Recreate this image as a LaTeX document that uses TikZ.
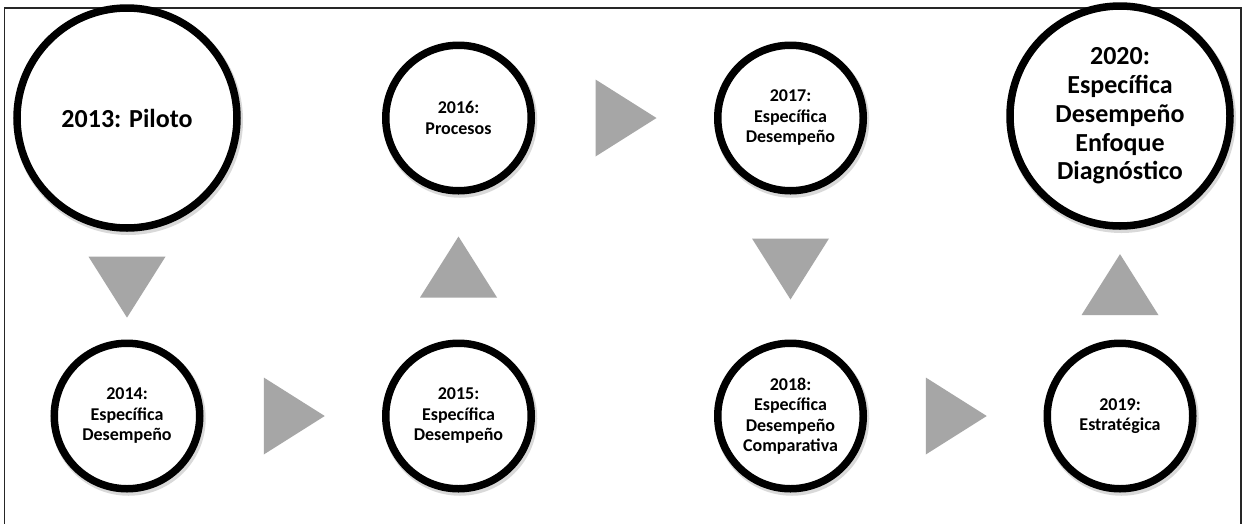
\documentclass[tikz,border=0pt]{standalone}
\usepackage{fontspec}
\setmainfont{Carlito}
\usetikzlibrary{calc,shadows}
\definecolor{trigray}{HTML}{A6A6A6}
\tikzset{
  circbase/.style={circle, draw=black, line width=7.5pt, fill=white, inner sep=0pt,
    align=center, text=black,
    drop shadow={shadow xshift=1.5pt, shadow yshift=-2.5pt, opacity=0.15,
      draw=black, fill=black, line width=9pt}},
  bigcirc/.style={circbase, minimum size=220pt, font=\fontsize{26}{28.8}\selectfont\bfseries},
  smallcirc/.style={circbase, minimum size=145.5pt, font=\fontsize{18}{20.5}\selectfont\bfseries},
  trifill/.style={fill=trigray},
  tri/.pic={\fill[trifill] (-30.5,-38.5) -- (30.5,0) -- (-30.5,38.5) -- cycle;},
  frameline/.style={draw=black!85, line width=1.2pt}
}
\begin{document}
\begin{tikzpicture}[x=1pt,y=-1pt]
\useasboundingbox (0,0) rectangle (1243,523);
\clip (0,0) rectangle (1243,523);
\fill[white] (0,0) rectangle (1243,523);
\draw[frameline] (4.5,540) -- (4.5,8) -- (1241,8) -- (1241,540);

\node[bigcirc]   (c2013) at (127,118) {2013: Piloto};
\node[smallcirc] (c2014) at (127,416) {2014:\\Específica\\Desempeño};
\node[smallcirc] (c2015) at (458.5,416) {2015:\\Específica\\Desempeño};
\node[smallcirc] (c2016) at (458.5,118) {2016:\\Procesos};
\node[smallcirc] (c2017) at (790.5,118) {2017:\\Específica\\Desempeño};
\node[smallcirc] (c2018) at (790.5,416) {2018:\\Específica\\Desempeño\\Comparativa};
\node[smallcirc] (c2019) at (1120,416) {2019:\\Estratégica};
\node[bigcirc]   (c2020) at (1120,116) {2020:\\Específica\\Desempeño\\Enfoque\\Diagnóstico};

\pic[rotate=-90] at ($(c2013.south)!0.5!(c2014.north)+(0,1.5)$) {tri};
\pic at ($(c2014.east)!0.5!(c2015.west)+(1.5,0)$) {tri};
\pic[rotate=90] at ($(c2015.north)!0.5!(c2016.south)$) {tri};
\pic at ($(c2016.east)!0.5!(c2017.west)+(1.5,0)$) {tri};
\pic[rotate=-90] at ($(c2017.south)!0.5!(c2018.north)+(0,2)$) {tri};
\pic at ($(c2018.east)!0.5!(c2019.west)+(1,0)$) {tri};
\pic[rotate=90] at ($(c2019.north)!0.5!(c2020.south)$) {tri};
\end{tikzpicture}
\end{document}
